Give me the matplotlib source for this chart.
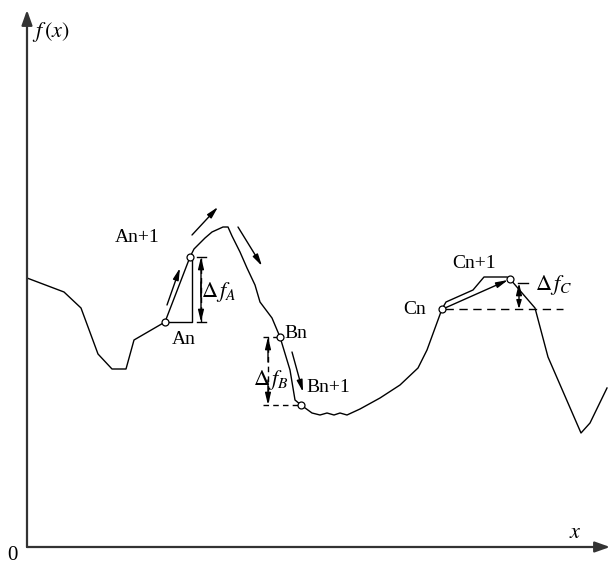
import numpy as np
import matplotlib.pyplot as plt

plt.rcParams['font.family'] = ['Liberation Serif', 'DejaVu Serif']
plt.rcParams['mathtext.fontset'] = 'stix'

# curve f(x), sampled along the path
xs = [0, 37, 54, 71, 85, 99, 107, 138, 163, 167, 178, 185, 196, 201, 205, 213, 220,
      228, 233, 245, 253, 263, 268, 274, 285, 293, 300, 307, 313, 320, 333, 353, 373,
      391, 400, 415, 419, 446, 457, 480, 483, 508, 521, 554, 563, 580]
fs = [269, 255, 239, 193, 178, 178, 207, 225, 290, 298, 309, 315, 320, 320, 311, 295,
      279, 262, 245, 229, 210, 177, 147, 142, 134, 132, 134, 132, 134, 132, 138, 149,
      162, 179, 197, 238, 245, 257, 270, 270, 268, 239, 190, 114, 124, 159]

# sample points on the curve
A = [(138, 225), (163, 290)]
B = [(253, 210), (274, 142)]
C = [(415, 238), (483, 268)]

fig = plt.figure(figsize=(6.1, 5.67), dpi=100)
ax = fig.add_axes([0, 0, 1, 1])
ax.set_xlim(-27, 583)
ax.set_ylim(-20, 547)
ax.axis('off')

lw = 1.0
k = 'black'
small = '-|>,head_length=0.7,head_width=0.17'

# axes with arrow heads
ax.annotate('', xy=(0, 537), xytext=(0, 0),
            arrowprops=dict(arrowstyle='-|>,head_length=0.9,head_width=0.32', color='#333333', lw=1.6,
                            shrinkA=0, shrinkB=0))
ax.annotate('', xy=(583, 0), xytext=(0, 0),
            arrowprops=dict(arrowstyle='-|>,head_length=0.9,head_width=0.32', color='#333333', lw=1.6,
                            shrinkA=0, shrinkB=0))
ax.text(5, 515, '$f\\,(x)$', fontsize=16, va='center', ha='left')
ax.text(548, 13, '$x$', fontsize=16, va='center', ha='center')
ax.text(-15, -9, '0', fontsize=15, va='center', ha='center')

ax.plot(xs, fs, color=k, lw=lw)

# A: rise triangle
ax.plot([A[0][0], A[1][0] + 2, A[1][0] + 2], [A[0][1], A[0][1], A[1][1] - 3], color=k, lw=lw)
ax.plot([A[1][0] + 11, A[1][0] + 11], [A[0][1], A[1][1]], color=k, lw=lw, ls=(0, (4, 3)))
for y in (A[0][1], A[1][1]):
    ax.plot([A[1][0] + 7, A[1][0] + 16], [y, y], color=k, lw=lw)
for y0, y1 in ((A[0][1] + 25, A[1][1]), (A[1][1] - 25, A[0][1])):
    ax.annotate('', xy=(A[1][0] + 11, y1), xytext=(A[1][0] + 11, y0),
                arrowprops=dict(arrowstyle=small, color=k, lw=lw, shrinkA=0, shrinkB=0))
ax.text(A[1][0] + 11, 255, '$\\Delta\\, f_A$', fontsize=16, va='center', ha='left')

# B: drop brackets
ax.plot([B[0][0] - 17, B[0][0]], [B[0][1], B[0][1]], color=k, lw=lw, ls=(0, (4, 3)))
ax.plot([B[0][0] - 17, B[1][0]], [B[1][1], B[1][1]], color=k, lw=lw, ls=(0, (4, 3)))
ax.plot([B[0][0] - 12, B[0][0] - 12], [B[0][1], B[1][1]], color=k, lw=lw, ls=(0, (4, 3)))
for y0, y1 in ((B[0][1] - 25, B[0][1]), (B[1][1] + 25, B[1][1])):
    ax.annotate('', xy=(B[0][0] - 12, y1), xytext=(B[0][0] - 12, y0),
                arrowprops=dict(arrowstyle=small, color=k, lw=lw, shrinkA=0, shrinkB=0))
ax.text(B[0][0] - 27, 167, '$\\Delta\\, f_B$', fontsize=16, va='center', ha='left')

# C: step along the ridge
ax.plot([C[0][0] + 3, 536], [C[0][1], C[0][1]], color=k, lw=lw, ls=(0, (6, 4)))
ax.plot([C[1][0] + 8, C[1][0] + 18], [C[1][1] - 4, C[1][1] - 4], color=k, lw=lw)
ax.annotate('', xy=(C[1][0] + 9, C[1][1] - 4), xytext=(C[1][0] + 9, C[1][1] - 20),
            arrowprops=dict(arrowstyle=small, color=k, lw=lw, shrinkA=0, shrinkB=0))
ax.annotate('', xy=(C[1][0] + 9, C[0][1]), xytext=(C[1][0] + 9, C[0][1] + 8),
            arrowprops=dict(arrowstyle='-|>,head_length=0.5,head_width=0.15', color=k, lw=lw,
                            shrinkA=0, shrinkB=0))
ax.annotate('', xy=(C[1][0] - 2, C[1][1] - 1), xytext=(C[0][0] + 3, C[0][1] + 1),
            arrowprops=dict(arrowstyle=small, color=k, lw=lw, shrinkA=0, shrinkB=0))
ax.text(C[1][0] + 25, 262, '$\\Delta\\, f_C$', fontsize=16, va='center', ha='left')

# direction arrows along the curve
moves = [((140, 242), (153, 279)), ((165, 312), (191, 340)),
         ((211, 320), (235, 281)), ((265, 195), (276, 155))]
for (x0, y0), (x1, y1) in moves:
    ax.annotate('', xy=(x1, y1), xytext=(x0, y0),
                arrowprops=dict(arrowstyle=small, color=k, lw=lw, shrinkA=0, shrinkB=0))

# sample points
for p in A + B + C:
    ax.plot(*p, marker='o', ms=5, mfc='white', mec=k, mew=0.9, zorder=5)

fs_lab = 14
ax.text(88, 309, 'An+1', fontsize=fs_lab, va='center', ha='left')
ax.text(145, 208, 'An', fontsize=fs_lab, va='center', ha='left')
ax.text(257, 214, 'Bn', fontsize=fs_lab, va='center', ha='left')
ax.text(279, 159, 'Bn+1', fontsize=fs_lab, va='center', ha='left')
ax.text(376, 237, 'Cn', fontsize=fs_lab, va='center', ha='left')
ax.text(425, 284, 'Cn+1', fontsize=fs_lab, va='center', ha='left')

fig.savefig('out.png', dpi=100)
